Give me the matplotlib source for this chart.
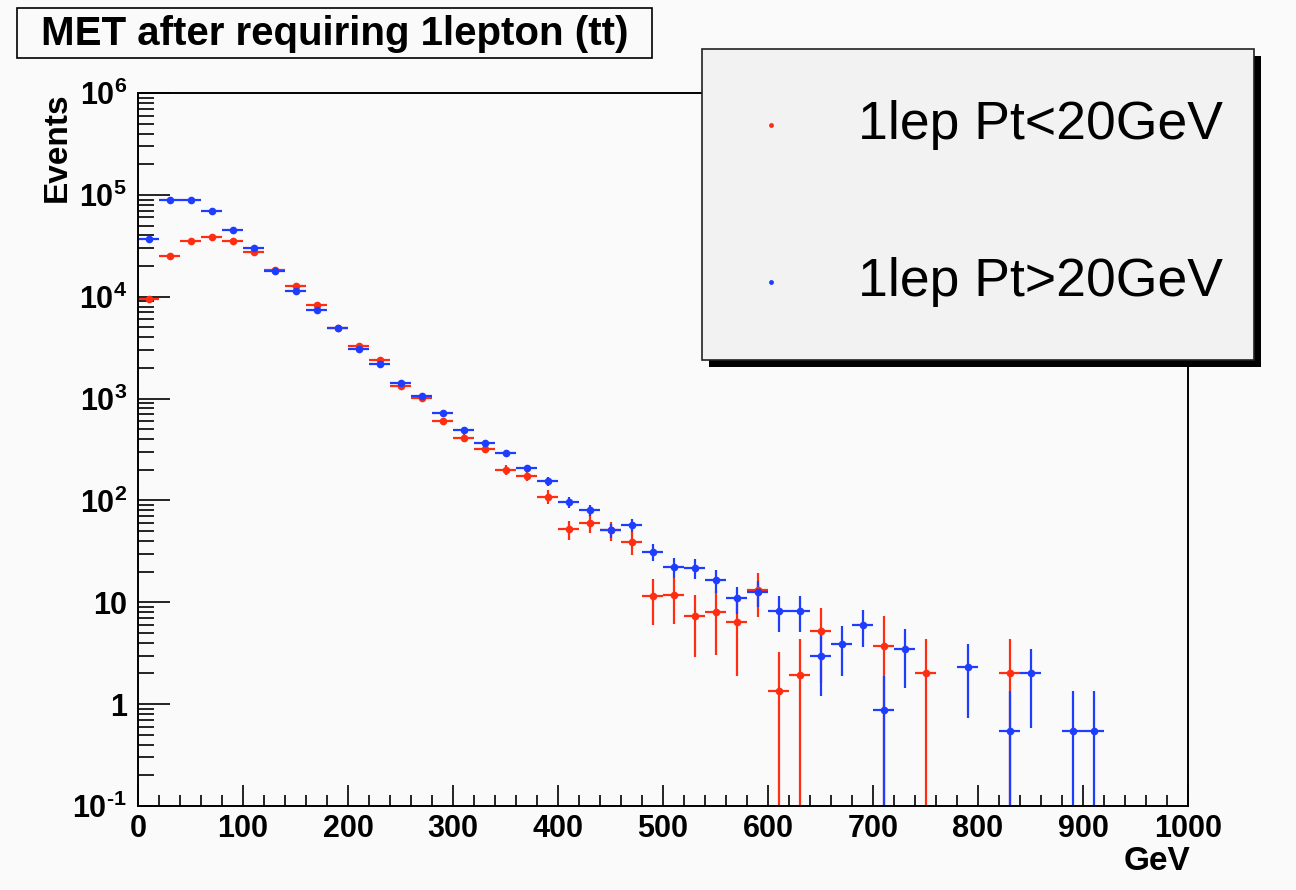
import numpy as np
import matplotlib
matplotlib.use('Agg')
import matplotlib.pyplot as plt
from matplotlib import font_manager
from matplotlib.patches import Rectangle
from matplotlib.lines import Line2D
from matplotlib.ticker import FixedLocator, NullFormatter

# MET histogram, 20 GeV bins from 0 to 1000 (empty bins are 0)
bin_edges = np.arange(0, 1001, 20)

low_pt_counts = [9500, 24900, 35200, 38300, 35200, 27200, 18500, 12800, 8260, 4950,
                 3260, 2370, 1330, 1020, 605, 411, 321, 199, 175, 109,
                 52, 60, 51, 39, 11.4, 11.7, 7.3, 8.05, 6.4, 13.2,
                 1.34, 1.95, 5.2, 0, 0, 3.7, 0, 2.03, 0, 0,
                 0, 2.03, 0, 0, 0, 0, 0, 0, 0, 0]
low_pt_errors = [160, 260, 310, 320, 310, 270, 220, 185, 150, 115,
                 93, 80, 60, 52, 40, 33, 29, 23, 21, 17,
                 11, 12, 11, 10, 5.4, 5.6, 4.4, 5.0, 4.5, 6.0,
                 1.9, 2.4, 3.6, 0, 0, 3.7, 0, 2.3, 0, 0,
                 0, 2.3, 0, 0, 0, 0, 0, 0, 0, 0]

high_pt_counts = [36800, 89000, 89000, 69500, 45500, 30300, 18000, 11500, 7480, 4900,
                  3090, 2170, 1430, 1060, 720, 490, 365, 293, 208, 154,
                  96, 81, 51, 57, 31.5, 22.4, 21.6, 16.6, 10.9, 12.5,
                  8.3, 8.3, 3.0, 3.9, 6.0, 0.87, 3.44, 0, 0, 2.33,
                  0, 0.54, 2.03, 0, 0.54, 0.54, 0, 0, 0, 0]
high_pt_errors = [210, 330, 330, 290, 235, 190, 150, 120, 95, 77,
                  61, 51, 41, 36, 29, 24, 21, 19, 16, 14,
                  11, 10, 8, 8.5, 6, 5, 4.8, 4.2, 3.2, 3.5,
                  3.2, 3.2, 1.8, 2.0, 2.4, 1.0, 2.0, 0, 0, 1.6,
                  0, 0.8, 1.45, 0, 0.8, 0.8, 0, 0, 0, 0]

labels = ['1lep Pt<20GeV', '1lep Pt>20GeV']
colors = ['#ff2e12', '#1f3dff']
title = 'MET after requiring 1lepton (tt)'
y_ticks = [0.1, 1, 10, 100, 1e3, 1e4, 1e5, 1e6]
y_tick_labels = ['10$^{\\text{-}1}$', '1', '10', '10$^{2}$', '10$^{3}$', '10$^{4}$',
                 '10$^{5}$', '10$^{6}$']

# fonts: narrow bold for axis text like ROOT's helvetica, if there is one
names = {f.name for f in font_manager.fontManager.ttflist}
narrow = 'Liberation Sans Narrow' if 'Liberation Sans Narrow' in names else 'Liberation Sans'
plt.rcParams['mathtext.fontset'] = 'custom'
plt.rcParams['mathtext.rm'] = narrow + ':bold'
plt.rcParams['mathtext.it'] = narrow + ':bold'
plt.rcParams['mathtext.bf'] = narrow + ':bold'
plt.rcParams['mathtext.default'] = 'rm'

W, H = 1296, 890
bg = '#fafafa'


def fx(px):
    return px / W


def fy(py):
    return 1 - py / H


fig = plt.figure(figsize=(W / 100, H / 100), dpi=100, facecolor=bg)
ax = fig.add_axes([fx(138), fy(806), fx(1188) - fx(138), fy(93) - fy(806)])
ax.set_facecolor(bg)

centers = (bin_edges[:-1] + bin_edges[1:]) / 2
half_width = np.diff(bin_edges) / 2

for counts, errs, col in [(low_pt_counts, low_pt_errors, colors[0]),
                          (high_pt_counts, high_pt_errors, colors[1])]:
    counts = np.array(counts, dtype=float)
    errs = np.array(errs, dtype=float)
    m = counts > 0
    ax.errorbar(centers[m], counts[m], yerr=errs[m], xerr=half_width[m],
                fmt='o', color=col, ms=5.5, mew=0, elinewidth=1.6, capsize=0)

ax.set_yscale('log')
ax.set_xlim(0, 1000)
ax.set_ylim(0.1, 1e6)

for s in ax.spines.values():
    s.set_linewidth(1.4)
    s.set_color('black')

ax.yaxis.set_major_locator(FixedLocator(y_ticks))
ax.yaxis.set_minor_locator(FixedLocator(
    [k * 10.0 ** e for e in range(-1, 6) for k in range(2, 10)]))
ax.yaxis.set_minor_formatter(NullFormatter())
ax.set_yticklabels(y_tick_labels)
ax.xaxis.set_major_locator(FixedLocator(np.arange(0, 1001, 100)))
ax.xaxis.set_minor_locator(FixedLocator(np.arange(0, 1001, 20)))

ax.tick_params(axis='y', which='major', direction='in', length=22.7, width=1.2, pad=8,
               left=True, right=False)
ax.tick_params(axis='y', which='minor', direction='in', length=11.3, width=1.2,
               left=True, right=False)
ax.tick_params(axis='x', which='major', direction='in', length=15.1, width=1.2, pad=6,
               top=False)
ax.tick_params(axis='x', which='minor', direction='in', length=7.6, width=1.2, top=False)
for lab in ax.get_xticklabels() + ax.get_yticklabels():
    lab.set_fontfamily(narrow)
    lab.set_fontweight('bold')
    lab.set_fontsize(22)

fig.text(fx(57), fy(92), 'Events', rotation=90, ha='center', va='top',
         family=narrow, weight='bold', fontsize=24)
fig.text(fx(1190), fy(862), 'GeV', ha='right', va='center',
         family=narrow, weight='bold', fontsize=24)

# title box
fig.add_artist(Rectangle((fx(17), fy(58)), fx(652) - fx(17), fy(8) - fy(58),
                         transform=fig.transFigure, facecolor=bg, edgecolor='black', lw=1.2))
fig.text(fx(335), fy(34), title, ha='center', va='center',
         family=narrow, weight='bold', fontsize=29)

# legend box with shadow
lx0, ly0, lx1, ly1 = 702, 49, 1254, 360
fig.add_artist(Rectangle((fx(lx0 + 7), fy(ly1 + 7)), fx(lx1) - fx(lx0), fy(ly0) - fy(ly1),
                         transform=fig.transFigure, facecolor='black', edgecolor='none', zorder=5))
fig.add_artist(Rectangle((fx(lx0), fy(ly1)), fx(lx1) - fx(lx0), fy(ly0) - fy(ly1),
                         transform=fig.transFigure, facecolor='#f2f2f2', edgecolor='#222222',
                         lw=1.2, zorder=6))
for lab, col, py in zip(labels, colors, [125, 282]):
    fig.add_artist(Line2D([fx(771)], [fy(py)], marker='o', ms=3.5, mew=0, color=col,
                          transform=fig.transFigure, zorder=7))
    fig.text(fx(858), fy(py), lab, ha='left', va='center', family='Liberation Sans',
             fontsize=38.5, zorder=7)

fig.savefig('out.png', dpi=100, facecolor=bg)
